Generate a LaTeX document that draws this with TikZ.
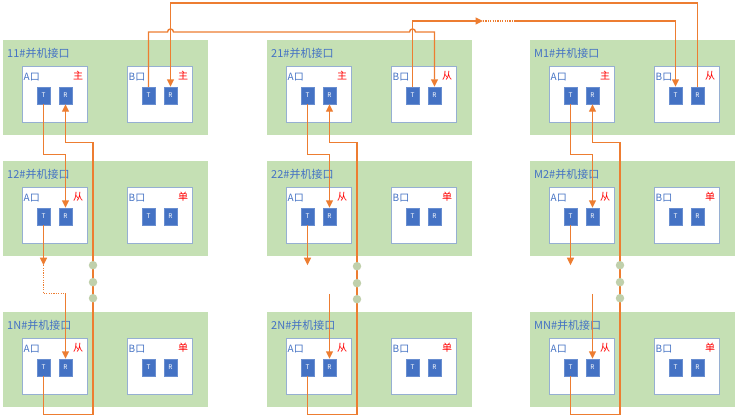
\documentclass[tikz,border=0pt]{standalone}
\usepackage{fontspec}
\newfontfamily\cjk{Noto Sans CJK SC}
\usepackage{tikz}
\usetikzlibrary{calc, arrows.meta}
\usepackage{xcolor}
\definecolor{panelgreen}{RGB}{197,224,180}
\definecolor{portedge}{RGB}{150,175,210}
\definecolor{chipblue}{RGB}{68,114,196}
\definecolor{textblue}{RGB}{68,114,196}
\definecolor{rolered}{RGB}{255,0,0}
\definecolor{wireorange}{RGB}{237,125,49}
\definecolor{dotgreen}{RGB}{192,208,172}
\tikzset{
    panel/.style={rectangle, fill=panelgreen, draw=none, anchor=north west, minimum width=205pt, minimum height=95pt, inner sep=0pt},
    portbox/.style={rectangle, fill=white, draw=portedge, line width=0.8pt, anchor=north west, minimum width=65pt, minimum height=56pt, inner sep=0pt},
    chip/.style={rectangle, fill=chipblue, draw=chipblue!80!white, line width=0.4pt, minimum width=13pt, minimum height=17pt, inner sep=0pt, text=white, font=\cjk\fontsize{6.5}{7}\selectfont},
    paneltitle/.style={anchor=west, inner sep=0pt, text=textblue, font=\cjk\fontsize{11}{13}\selectfont},
    portlabel/.style={anchor=west, inner sep=0pt, text=textblue, font=\cjk\fontsize{10}{12}\selectfont},
    rolelabel/.style={anchor=east, inner sep=0pt, text=rolered, font=\cjk\fontsize{10}{12}\selectfont},
    wire/.style={draw=wireorange, line width=1.4pt},
    wirearrow/.style={wire, -{Triangle[length=7.5pt, width=7pt]}},
    wiredotted/.style={wire, line width=1.1pt, dash pattern=on 1.2pt off 1.2pt},
    gapdot/.style={circle, fill=dotgreen, minimum size=8.5pt, inner sep=0pt}
}
% one parallel interface: name, x, y, title, role of port A, role of port B
\newcommand{\parpanel}[6]{%
    \node[panel] (#1) at (#2,#3) {};
    \node[paneltitle] (#1-title) at ($(#1.north west)+(4,13)$) {#4};
    \node[portbox] (#1a) at ($(#1.north west)+(18.5,26)$) {};
    \node[portbox] (#1b) at ($(#1.north west)+(123.5,26)$) {};
    \node[portlabel] (#1a-name) at ($(#1a.north west)+(2,11)$) {A口};
    \node[portlabel] (#1b-name) at ($(#1b.north west)+(2,11)$) {B口};
    \node[rolelabel] (#1a-role) at ($(#1a.north east)+(-4,10)$) {#5};
    \node[rolelabel] (#1b-role) at ($(#1b.north east)+(-4,10)$) {#6};
    \node[chip] (#1at) at ($(#1a.north west)+(22,29.5)$) {T};
    \node[chip] (#1ar) at ($(#1a.north west)+(44,29.5)$) {R};
    \node[chip] (#1bt) at ($(#1b.north west)+(22,29.5)$) {T};
    \node[chip] (#1br) at ($(#1b.north west)+(44,29.5)$) {R};
}

\begin{document}
\begin{tikzpicture}[x=1pt, y=-1pt]
    \useasboundingbox (0,0) rectangle (739,416);

    \parpanel{p11}{3}{40}{11\#并机接口}{主}{主}
    \parpanel{p12}{3}{161}{12\#并机接口}{从}{单}
    \parpanel{p1n}{3}{312}{1N\#并机接口}{从}{单}
    \parpanel{p21}{267}{40}{21\#并机接口}{主}{从}
    \parpanel{p22}{267}{161}{22\#并机接口}{从}{单}
    \parpanel{p2n}{267}{312}{2N\#并机接口}{从}{单}
    \parpanel{pm1}{530}{40}{M1\#并机接口}{主}{从}
    \parpanel{pm2}{530}{161}{M2\#并机接口}{从}{单}
    \parpanel{pmn}{530}{312}{MN\#并机接口}{从}{单}

    % Column 1
    \coordinate (c1-end) at ($(p12at.south)+(0,40)$);
    \coordinate (c1-join) at ($(p1nar.north)+(0,-65)$);
    \coordinate (c1-back) at ($(p11ar.south)+(27.5,38)$);
    \draw[wirearrow] (p11at.south) -- ++(0,50) -| (p12ar.north);
    \draw[wirearrow] (p12at.south) -- (c1-end);
    \draw[wiredotted] (c1-end) |- (c1-join);
    \draw[wirearrow] (c1-join) -- (p1nar.north);
    \draw[wirearrow] (p1nat.south) -- ++(0,38) -| (c1-back) -| (p11ar.south);

    % Column 2
    \coordinate (c2-end) at ($(p22at.south)+(0,40)$);
    \coordinate (c2-join) at ($(p2nar.north)+(0,-65)$);
    \coordinate (c2-back) at ($(p21ar.south)+(27.5,38)$);
    \draw[wirearrow] (p21at.south) -- ++(0,50) -| (p22ar.north);
    \draw[wirearrow] (p22at.south) -- (c2-end);
    \draw[wirearrow] (c2-join) -- (p2nar.north);
    \draw[wirearrow] (p2nat.south) -- ++(0,38) -| (c2-back) -| (p21ar.south);

    % Column M
    \coordinate (cm-end) at ($(pm2at.south)+(0,40)$);
    \coordinate (cm-join) at ($(pmnar.north)+(0,-65)$);
    \coordinate (cm-back) at ($(pm1ar.south)+(27.5,38)$);
    \draw[wirearrow] (pm1at.south) -- ++(0,50) -| (pm2ar.north);
    \draw[wirearrow] (pm2at.south) -- (cm-end);
    \draw[wirearrow] (cm-join) -- (pmnar.north);
    \draw[wirearrow] (pmnat.south) -- ++(0,38) -| (cm-back) -| (pm1ar.south);

    % Gap dots
    \node[gapdot] (c1-dot1) at ($(c1-back)+(0,123)$) {};
    \node[gapdot] (c1-dot2) at ($(c1-back)+(0,140)$) {};
    \node[gapdot] (c1-dot3) at ($(c1-back)+(0,156)$) {};
    \node[gapdot] (c2-dot1) at ($(c2-back)+(0,124)$) {};
    \node[gapdot] (c2-dot2) at ($(c2-back)+(0,141)$) {};
    \node[gapdot] (c2-dot3) at ($(c2-back)+(0,157)$) {};
    \node[gapdot] (cm-dot1) at ($(cm-back)+(0,123)$) {};
    \node[gapdot] (cm-dot2) at ($(cm-back)+(0,140)$) {};
    \node[gapdot] (cm-dot3) at ($(cm-back)+(0,156)$) {};

    % B ports across the top
    \coordinate (hop1) at (p11br.north |- 0,32);
    \coordinate (hop2) at (p21bt.north |- 0,32);
    \coordinate (top-arrow) at (483,21);
    \coordinate (top-dots) at (515,21);
    \draw[wirearrow] (p11bt.north) |- ($(hop1)+(-3,0)$)
        .. controls +(0,-4) and +(0,-4) .. ($(hop1)+(3,0)$)
        -- ($(hop2)+(-3,0)$)
        .. controls +(0,-4) and +(0,-4) .. ($(hop2)+(3,0)$)
        -| (p21br.north);
    \draw[wirearrow] (p21bt.north) |- (top-arrow);
    \draw[wiredotted] (top-arrow) -- (top-dots);
    \draw[wirearrow] (top-dots) -| (pm1bt.north);
    \draw[wirearrow] (pm1br.north) -- ++(0,-84) -| (p11br.north);
\end{tikzpicture}
\end{document}
